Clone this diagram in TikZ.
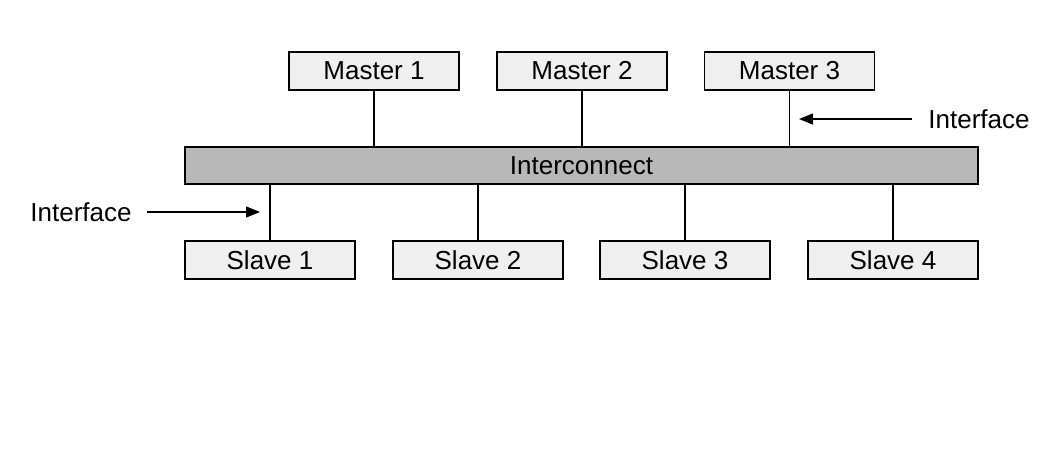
\documentclass[tikz,border=0pt]{standalone}
\usepackage{fontspec}
\setmainfont{Liberation Sans}
\usetikzlibrary{arrows.meta}
\definecolor{boxfill}{HTML}{EFEFEF}
\definecolor{busfill}{HTML}{B8B8B8}
\begin{document}
\begin{tikzpicture}[x=0.5pt,y=-0.5pt,
  every node/.style={font=\fontsize{13}{15}\selectfont},
  unitbox/.style={draw,line width=0.7pt,fill=boxfill,minimum width=85pt,minimum height=19pt,inner sep=0pt},
  busbox/.style={draw,line width=0.7pt,fill=busfill,minimum width=396.5pt,minimum height=18.5pt,inner sep=0pt},
  wire/.style={line width=0.7pt},
  pointer/.style={line width=0.7pt,-{Triangle[length=7pt,width=5.5pt]}}]
\useasboundingbox (0,0) rectangle (1057,451);
\node[unitbox] (m1) at (374,71) {Master 1};
\node[unitbox] (m2) at (582,71) {Master 2};
\node[unitbox] (m3) at (789.5,71) {Master 3};
\node[busbox] (bus) at (581.5,165.5) {Interconnect};
\node[unitbox] (s1) at (270,260) {Slave 1};
\node[unitbox] (s2) at (478,260) {Slave 2};
\node[unitbox] (s3) at (685,260) {Slave 3};
\node[unitbox] (s4) at (893,260) {Slave 4};
\draw[wire] (m1.south) -- (m1.south |- bus.north);
\draw[wire] (m2.south) -- (m2.south |- bus.north);
\draw[wire] (m3.south) -- (m3.south |- bus.north);
\draw[wire] (s1.north) -- (s1.north |- bus.south);
\draw[wire] (s2.north) -- (s2.north |- bus.south);
\draw[wire] (s3.north) -- (s3.north |- bus.south);
\draw[wire] (s4.north) -- (s4.north |- bus.south);
\node[anchor=west,inner sep=0pt] (ifr) at (928,119) {Interface};
\coordinate (ifrtip) at (799,119);
\draw[pointer] ([xshift=-8pt]ifr.west) -- (ifrtip);
\node[anchor=east,inner sep=0pt] (ifl) at (132,212) {Interface};
\coordinate (ifltip) at (260,212);
\draw[pointer] ([xshift=7.5pt]ifl.east) -- (ifltip);
\end{tikzpicture}
\end{document}
